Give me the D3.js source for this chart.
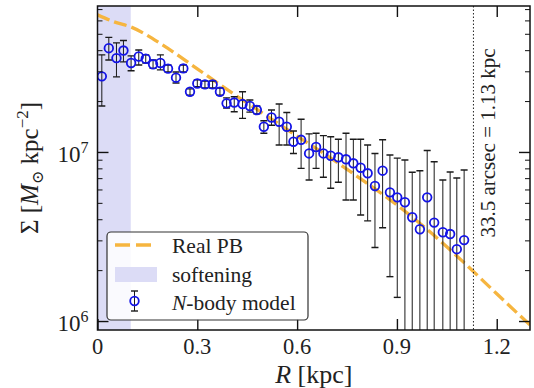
<!DOCTYPE html>
<html>
<head>
<meta charset="utf-8">
<script src="https://cdn.jsdelivr.net/npm/d3@7"></script>
<style>
  body { margin: 0; background: #fff; }
  svg { display: block; font-family: "Liberation Serif", "DejaVu Serif", serif; }
</style>
</head>
<body>
<div id="container"></div>
<script>
/* DATA (surface density in units of 10^6 Msun kpc^-2) */
const radius = [0.013, 0.034, 0.057, 0.078, 0.101, 0.124, 0.145, 0.167, 0.189, 0.212,
  0.236, 0.258, 0.278, 0.300, 0.323, 0.346, 0.368, 0.388, 0.411, 0.436,
  0.458, 0.479, 0.500, 0.523, 0.546, 0.569, 0.589, 0.612, 0.636, 0.657,
  0.679, 0.701, 0.724, 0.747, 0.769, 0.791, 0.812, 0.834, 0.857, 0.879,
  0.901, 0.924, 0.946, 0.969, 0.991, 1.012, 1.038, 1.060, 1.080, 1.102];
const sigma = [28.0, 41.1, 35.9, 39.8, 33.6, 36.7, 35.6, 33.0, 33.6, 31.1,
  27.5, 31.2, 22.7, 25.4, 25.1, 25.1, 22.7, 19.4, 19.6, 19.2,
  18.7, 17.7, 14.1, 16.0, 15.1, 14.1, 11.5, 11.8, 9.8, 10.7,
  9.8, 9.5, 9.3, 9.05, 8.57, 8.07, 7.48, 6.29, 7.75, 5.77,
  5.39, 5.04, 4.11, 3.49, 5.39, 3.82, 3.35, 3.27, 2.66, 3.01];
const sigmaHigh = [37.5, 47.6, 44.2, 45.6, 37.0, 40.1, 37.5, 35.0, 37.5, 32.7,
  29.7, 32.7, 23.6, 26.7, 26.3, 26.3, 23.9, 20.9, 21.2, 22.7,
  20.3, 18.7, 15.3, 17.7, 19.2, 17.1, 13.3, 15.6, 12.8, 12.9,
  12.5, 12.3, 11.9, 12.9, 11.9, 11.9, 11.0, 9.8, 11.8, 9.6,
  9.2, 8.97, 7.59, 7.75, 10.2, 8.76, 6.83, 7.61, 7.02, 7.82];
const sigmaLow = [18.7, 35.0, 27.8, 34.1, 30.2, 32.7, 33.6, 31.2, 30.6, 29.7,
  25.6, 29.7, 21.7, 24.3, 23.9, 23.9, 21.7, 18.2, 17.3, 15.8,
  17.2, 16.8, 12.9, 14.4, 11.0, 11.0, 9.8, 8.0, 6.83, 8.0,
  7.08, 6.10, 6.62, 5.20, 5.20, 4.24, 3.91, 2.72, 3.56, 1.83,
  1.38, 0.5, 0.5, 0.5, 0.5, 0.5, 0.5, 0.5, 0.5, 0.5];

const pbRadius = [0, 0.05, 0.1, 0.2, 0.3, 0.4, 0.5, 0.6, 0.7, 0.8, 0.9, 1.0, 1.1, 1.2, 1.3];
const pbSigma = [64.7, 58.8, 54.9, 42.4, 31.0, 22.65, 16.8, 12.4, 9.22, 6.74, 4.86, 3.36, 2.23, 1.45, 0.947];

const softening = 0.1;
const apertureR = 1.13;

const xTicks = [0, 0.3, 0.6, 0.9, 1.2];
const xTickLabels = ["0", "0.3", "0.6", "0.9", "1.2"];
const yMajor = [1, 10];
const yMajorExp = ["6", "7"];
const yMinor = [2, 3, 4, 5, 6, 7, 8, 9, 20, 30, 40, 50, 60, 70];

/* LAYOUT */
const width = 534, height = 388;
const margin = {top: 6, right: 4, bottom: 58, left: 97.5};
const pbColor = "#f6b53f";
const shadeColor = "#dcdcf6";
const markerColor = "#1414e6";

const svg = d3.select("#container").append("svg")
  .attr("width", width)
  .attr("height", height);

const xScale = d3.scaleLinear()
  .domain([0, 1.3])
  .range([margin.left, width - margin.right]);

const yScale = d3.scaleLog()
  .domain([0.885, 73])
  .range([height - margin.bottom, margin.top]);

const x0 = xScale.range()[0], x1 = xScale.range()[1];
const y0 = yScale.range()[0], y1 = yScale.range()[1];

svg.append("clipPath").attr("id", "plot-clip")
  .append("rect")
  .attr("x", x0).attr("y", y1)
  .attr("width", x1 - x0).attr("height", y0 - y1);

const plot = svg.append("g").attr("clip-path", "url(#plot-clip)");

// softening band
plot.append("rect")
  .attr("x", xScale(0))
  .attr("y", y1)
  .attr("width", xScale(softening) - xScale(0))
  .attr("height", y0 - y1)
  .attr("fill", shadeColor);

// real PB profile
const pbLine = d3.line()
  .x((d, i) => xScale(pbRadius[i]))
  .y(d => yScale(d))
  .curve(d3.curveMonotoneX);

plot.append("path")
  .datum(pbSigma)
  .attr("d", pbLine)
  .attr("fill", "none")
  .attr("stroke", pbColor)
  .attr("stroke-width", 3.3)
  .attr("stroke-dasharray", "13,5");

// aperture line
plot.append("line")
  .attr("x1", xScale(apertureR)).attr("x2", xScale(apertureR))
  .attr("y1", y1).attr("y2", y0)
  .attr("stroke", "#222")
  .attr("stroke-width", 1)
  .attr("stroke-dasharray", "1.5,2");

// error bars
const pts = radius.map((r, i) => ({r, s: sigma[i], lo: sigmaLow[i], hi: sigmaHigh[i]}));
const capW = 3.5;

const bars = plot.selectAll("g.err")
  .data(pts)
  .join("g")
  .attr("class", "err")
  .attr("stroke", "#1a1a1a")
  .attr("stroke-width", 1);

bars.append("line")
  .attr("x1", d => xScale(d.r)).attr("x2", d => xScale(d.r))
  .attr("y1", d => yScale(d.hi)).attr("y2", d => yScale(d.lo));
bars.append("line")
  .attr("x1", d => xScale(d.r) - capW).attr("x2", d => xScale(d.r) + capW)
  .attr("y1", d => yScale(d.hi)).attr("y2", d => yScale(d.hi))
  .attr("stroke-width", 1.4);
bars.append("line")
  .attr("x1", d => xScale(d.r) - capW).attr("x2", d => xScale(d.r) + capW)
  .attr("y1", d => yScale(d.lo)).attr("y2", d => yScale(d.lo))
  .attr("stroke-width", 1.4);

plot.selectAll("circle.dot")
  .data(pts)
  .join("circle")
  .attr("class", "dot")
  .attr("cx", d => xScale(d.r))
  .attr("cy", d => yScale(d.s))
  .attr("r", 4.3)
  .attr("fill", "none")
  .attr("stroke", markerColor)
  .attr("stroke-width", 1.8);

// annotation
svg.append("text")
  .attr("transform", `translate(${xScale(apertureR) + 22},${(y0 + y1) / 2 - 25}) rotate(-90)`)
  .attr("text-anchor", "middle")
  .style("font-size", "21px")
  .attr("fill", "#222")
  .text("33.5 arcsec = 1.13 kpc");

/* AXES */
const axisG = svg.append("g").attr("class", "axes");

axisG.append("g")
  .attr("transform", `translate(0,${y0})`)
  .call(d3.axisBottom(xScale).tickValues(xTicks).tickSizeInner(-11).tickSizeOuter(0).tickFormat(""));
axisG.append("g")
  .attr("transform", `translate(0,${y1})`)
  .call(d3.axisTop(xScale).tickValues(xTicks.filter(t => t > 0)).tickSizeInner(-11).tickSizeOuter(0).tickFormat(""));
axisG.append("g")
  .attr("transform", `translate(${x0},0)`)
  .call(d3.axisLeft(yScale).tickValues(yMajor).tickSizeInner(-11).tickSizeOuter(0).tickFormat(""));
axisG.append("g")
  .attr("transform", `translate(${x1},0)`)
  .call(d3.axisRight(yScale).tickValues(yMajor).tickSizeInner(-11).tickSizeOuter(0).tickFormat(""));
axisG.append("g")
  .attr("class", "minor")
  .attr("transform", `translate(${x0},0)`)
  .call(d3.axisLeft(yScale).tickValues(yMinor).tickSizeInner(-5).tickSizeOuter(0).tickFormat(""));
axisG.append("g")
  .attr("class", "minor")
  .attr("transform", `translate(${x1},0)`)
  .call(d3.axisRight(yScale).tickValues(yMinor).tickSizeInner(-5).tickSizeOuter(0).tickFormat(""));

axisG.selectAll(".domain").remove();
axisG.selectAll(".tick line").attr("stroke", "#111").attr("stroke-width", 1.4);
axisG.selectAll(".minor .tick line").attr("stroke-width", 1);

// frame
svg.append("rect")
  .attr("x", x0).attr("y", y1)
  .attr("width", x1 - x0).attr("height", y0 - y1)
  .attr("fill", "none")
  .attr("stroke", "#111")
  .attr("stroke-width", 1.5);

// x tick labels
svg.selectAll(".xlab")
  .data(xTicks)
  .join("text")
  .attr("class", "xlab")
  .attr("x", d => xScale(d))
  .attr("y", y0 + 24)
  .attr("text-anchor", "middle")
  .style("font-size", "22.5px")
  .attr("fill", "#222")
  .text((d, i) => xTickLabels[i]);

// y tick labels 10^n
const ylab = svg.selectAll(".ylab")
  .data(yMajor)
  .join("text")
  .attr("class", "ylab")
  .attr("x", x0 - 9)
  .attr("y", d => yScale(d) + 10)
  .attr("text-anchor", "end")
  .attr("fill", "#222")
  .style("font-size", "23px");
ylab.append("tspan").text("10");
ylab.append("tspan")
  .attr("dy", -9)
  .style("font-size", "16px")
  .text((d, i) => yMajorExp[i]);

// axis titles
const xTitle = svg.append("text")
  .attr("x", (x0 + x1) / 2)
  .attr("y", 383)
  .attr("text-anchor", "middle")
  .attr("fill", "#222")
  .style("font-size", "26px");
xTitle.append("tspan").style("font-style", "italic").text("R");
xTitle.append("tspan").text(" [kpc]");

const yTitle = svg.append("text")
  .attr("transform", `translate(38,${(y0 + y1) / 2}) rotate(-90)`)
  .attr("text-anchor", "middle")
  .attr("fill", "#222")
  .style("font-size", "25px");
yTitle.append("tspan").text("Σ [");
yTitle.append("tspan").style("font-style", "italic").text("M");
yTitle.append("tspan").attr("dy", 5).style("font-size", "16px").text("⊙");
yTitle.append("tspan").attr("dy", -5).text(" kpc");
yTitle.append("tspan").attr("dy", -10).style("font-size", "17px").text("−2");
yTitle.append("tspan").attr("dy", 10).text("]");

/* LEGEND */
const legend = svg.append("g");
legend.append("rect")
  .attr("x", 107).attr("y", 232)
  .attr("width", 201).attr("height", 88)
  .attr("rx", 4)
  .attr("fill", "#fff")
  .attr("fill-opacity", 0.85)
  .attr("stroke", "#333")
  .attr("stroke-width", 1.2);

legend.append("line")
  .attr("x1", 115).attr("x2", 153)
  .attr("y1", 245).attr("y2", 245)
  .attr("stroke", pbColor)
  .attr("stroke-width", 3.3)
  .attr("stroke-dasharray", "15,6");

legend.append("rect")
  .attr("x", 115).attr("y", 267)
  .attr("width", 42).attr("height", 15)
  .attr("fill", shadeColor);

const lx = 134.5, ly = 301;
legend.append("line")
  .attr("x1", lx).attr("x2", lx).attr("y1", ly - 10).attr("y2", ly + 10)
  .attr("stroke", "#1a1a1a").attr("stroke-width", 1);
[ly - 10, ly + 10].forEach(cy => {
  legend.append("line")
    .attr("x1", lx - capW).attr("x2", lx + capW).attr("y1", cy).attr("y2", cy)
    .attr("stroke", "#1a1a1a").attr("stroke-width", 1.4);
});
legend.append("circle")
  .attr("cx", lx).attr("cy", ly).attr("r", 4.3)
  .attr("fill", "none").attr("stroke", markerColor).attr("stroke-width", 1.8);

const legendLabels = ["Real PB", "softening", "N-body model"];
legend.selectAll(".leg-text")
  .data(legendLabels)
  .join("text")
  .attr("class", "leg-text")
  .attr("x", 172)
  .attr("y", (d, i) => 253 + i * 28.5)
  .attr("fill", "#222")
  .style("font-size", "21.5px")
  .each(function(d) {
    const t = d3.select(this);
    if (d.startsWith("N-")) {
      t.append("tspan").style("font-style", "italic").text("N");
      t.append("tspan").text(d.slice(1));
    } else {
      t.text(d);
    }
  });
</script>
</body>
</html>
